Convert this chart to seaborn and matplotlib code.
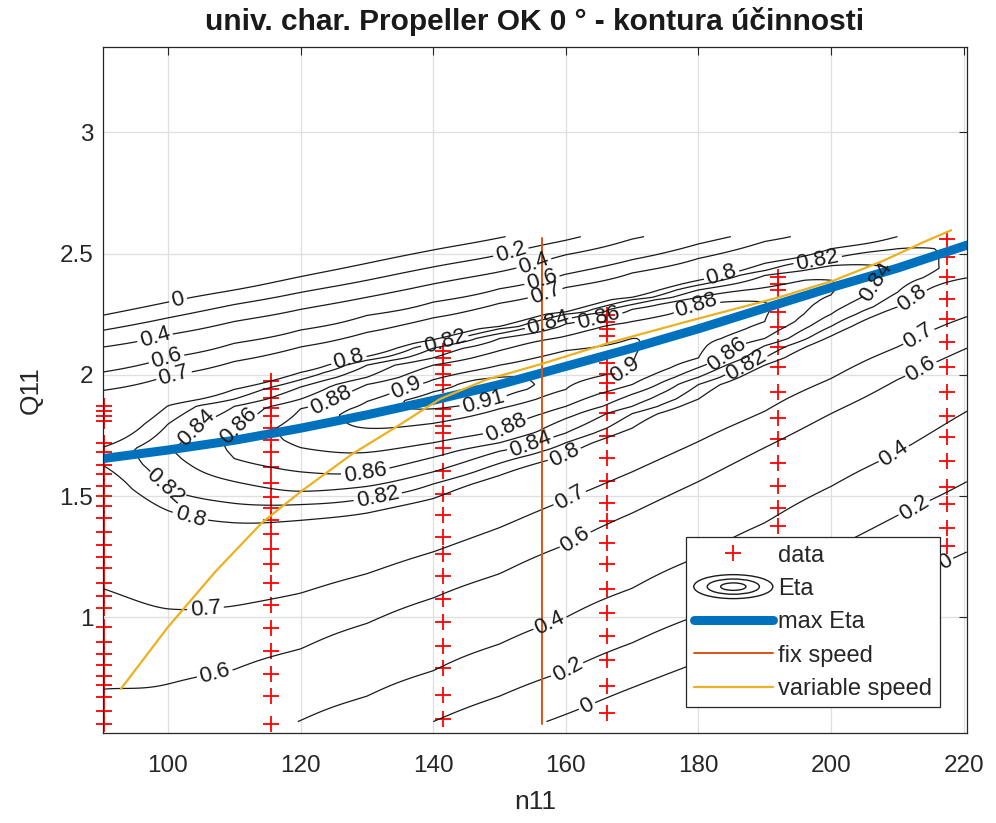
import numpy as np
import pandas as pd
import matplotlib
matplotlib.use("Agg")
import matplotlib.pyplot as plt
import seaborn as sns
from matplotlib.legend_handler import HandlerBase
from matplotlib.patches import Ellipse
from matplotlib.lines import Line2D

# ---------------- measured points (red crosses) ----------------
data_n1 = 90.4
data_q1 = [1.87, 1.85, 1.83, 1.81, 1.72, 1.68, 1.63, 1.59, 1.54, 1.50, 1.46, 1.41, 1.35,
           1.30, 1.25, 1.205, 1.14, 1.09, 1.04, 0.96, 0.90, 0.85, 0.805, 0.76, 0.72, 0.67,
           0.615, 0.56]
data_n2 = 115.6
data_q2 = [1.975, 1.94, 1.905, 1.865, 1.83, 1.78, 1.73, 1.68, 1.62, 1.555, 1.495, 1.45,
           1.40, 1.345, 1.28, 1.22, 1.14, 1.05, 0.955, 0.86, 0.765, 0.675, 0.56]
data_n3 = 141.5
data_q3 = [2.10, 2.07, 2.04, 2.005, 1.96, 1.86, 1.83, 1.79, 1.76, 1.70, 1.605, 1.51, 1.42,
           1.33, 1.26, 1.17, 1.075, 0.98, 0.88, 0.79, 0.68, 0.58]
data_n4 = 166.2
data_q4 = [2.245, 2.216, 2.19, 2.16, 2.047, 2.005, 1.968, 1.927, 1.844, 1.749, 1.658,
           1.563, 1.472, 1.398, 1.307, 1.22, 1.117, 1.018, 0.923, 0.826, 0.716, 0.604]
data_n5 = 192.0
data_q5 = [2.403, 2.376, 2.348, 2.259, 2.197, 2.114, 2.031, 1.928, 1.824, 1.737, 1.638,
           1.543, 1.452, 1.377]
data_n6 = 217.5
data_q6 = [2.562, 2.486, 2.403, 2.314, 2.231, 2.135, 2.031, 1.928, 1.832, 1.742, 1.646,
           1.536, 1.467, 1.37, 1.295]

# ---------------- max Eta, fix speed, variable speed ----------------
maxeta_n = [90.3, 100, 110, 120, 130, 140, 150, 160, 170, 180, 190, 200, 210, 220.5]
maxeta_q = [1.655, 1.69, 1.73, 1.78, 1.835, 1.895, 1.96, 2.035, 2.11, 2.19, 2.275, 2.36,
            2.44, 2.535]
fix_n = [156.35, 156.35]
fix_q = [0.56, 2.565]
var_n = [92.9, 100, 107.2, 114.2, 120.2, 127.8, 134.3, 141.0, 148.0, 156.35, 166.9, 177.9,
         192.2, 200.5, 208.0, 214.0, 218.1]
var_q = [0.705, 0.96, 1.19, 1.391, 1.522, 1.674, 1.783, 1.90, 1.98, 2.045, 2.135, 2.217,
         2.32, 2.39, 2.472, 2.548, 2.596]

# ---------------- efficiency field: contour crossings read per n11 column ----------------
nan = np.nan
eta_cols_n = [90, 100, 110, 120, 130, 140, 150, 160, 170, 180, 190, 200, 210, 220.5]
ridge_q = [1.67, 1.69, 1.73, 1.78, 1.835, 1.895, 1.96, 2.04, 2.115, 2.19, 2.275, 2.36, 2.44, 2.53]
ridge_eta = [0.802, 0.838, 0.865, 0.889, 0.908, 0.914, 0.915, 0.909, 0.901, 0.89, 0.882,
             0.862, 0.838, 0.819]
eta_levels = [0.0, 0.2, 0.4, 0.6, 0.7, 0.8, 0.82, 0.84, 0.86, 0.88, 0.90, 0.91]
# Q11 where each level crosses the column below the ridge
low_000 = [nan, nan, nan, nan, nan, nan, 0.50, 0.60, 0.71, 0.815, 0.925, 1.03, 1.14, 1.27]
low_020 = [nan, nan, nan, nan, 0.47, 0.57, 0.675, 0.78, 0.895, 1.01, 1.145, 1.28, 1.42, 1.56]
low_040 = [nan, nan, 0.47, 0.575, 0.675, 0.78, 0.89, 1.00, 1.12, 1.25, 1.39, 1.54, 1.68, 1.85]
low_060 = [0.703, 0.725, 0.785, 0.87, 0.975, 1.08, 1.18, 1.30, 1.43, 1.56, 1.70, 1.84, 1.98, 2.11]
low_070 = [1.12, 1.035, 1.047, 1.10, 1.18, 1.27, 1.37, 1.485, 1.60, 1.725, 1.85, 1.985, 2.115, 2.24]
low_080 = [1.63, 1.44, 1.39, 1.40, 1.43, 1.49, 1.585, 1.67, 1.78, 1.90, 2.04, 2.16, 2.28, 2.40]
low_082 = [nan, 1.53, 1.47, 1.465, 1.49, 1.55, 1.635, 1.72, 1.84, 1.96, 2.07, 2.20, 2.34, nan]
low_084 = [nan, nan, 1.56, 1.52, 1.54, 1.60, 1.685, 1.76, 1.87, 1.99, 2.12, 2.25, nan, nan]
low_086 = [nan, nan, 1.655, 1.60, 1.597, 1.66, 1.72, 1.82, 1.92, 2.03, 2.15, 2.33, nan, nan]
low_088 = [nan, nan, nan, 1.70, 1.68, 1.72, 1.77, 1.87, 1.96, 2.07, 2.22, nan, nan, nan]
low_090 = [nan, nan, nan, nan, 1.78, 1.80, 1.86, 1.94, 2.03, nan, nan, nan, nan, nan]
low_091 = [nan, nan, nan, nan, nan, 1.86, 1.90, nan, nan, nan, nan, nan, nan, nan]
# Q11 where each level crosses the column above the ridge
up_000 = [2.245, 2.30, 2.35, 2.405, 2.46, 2.515, 2.565, 2.62, 2.69, 2.76, 2.83, 2.90, 2.97, 3.04]
up_020 = [2.183, 2.235, 2.29, 2.34, 2.39, 2.445, 2.495, 2.555, 2.62, 2.69, 2.76, 2.83, 2.90, 2.97]
up_040 = [2.114, 2.165, 2.22, 2.27, 2.32, 2.375, 2.425, 2.495, 2.56, 2.63, 2.70, 2.77, 2.84, 2.90]
up_060 = [2.011, 2.07, 2.13, 2.185, 2.245, 2.30, 2.355, 2.415, 2.475, 2.54, 2.60, 2.67, 2.73, 2.79]
up_070 = [1.935, 1.995, 2.055, 2.115, 2.175, 2.235, 2.295, 2.36, 2.42, 2.48, 2.55, 2.62, 2.68, 2.74]
up_080 = [1.70, 1.873, 1.94, 2.01, 2.076, 2.145, 2.20, 2.26, 2.32, 2.39, 2.46, 2.52, 2.57, 2.60]
up_082 = [nan, 1.797, 1.90, 1.98, 2.06, 2.13, 2.19, 2.25, 2.31, 2.37, 2.43, 2.48, 2.52, nan]
up_084 = [nan, nan, 1.87, 1.95, 2.04, 2.11, 2.17, 2.23, 2.29, 2.35, 2.41, 2.45, nan, nan]
up_086 = [nan, nan, 1.78, 1.90, 1.99, 2.07, 2.15, 2.21, 2.27, 2.32, 2.36, 2.39, nan, nan]
up_088 = [nan, nan, nan, 1.86, 1.96, 2.04, 2.10, 2.16, 2.22, 2.29, 2.30, nan, nan, nan]
up_090 = [nan, nan, nan, nan, 1.89, 1.98, 2.04, 2.10, 2.15, nan, nan, nan, nan, nan]
up_091 = [nan, nan, nan, nan, nan, 1.93, 1.99, nan, nan, nan, nan, nan, nan, nan]

lower_sets = [low_000, low_020, low_040, low_060, low_070, low_080, low_082, low_084,
              low_086, low_088, low_090, low_091]
upper_sets = [up_000, up_020, up_040, up_060, up_070, up_080, up_082, up_084,
              up_086, up_088, up_090, up_091]

# ---------------- build the field grid from the column readings ----------------
q_grid = np.linspace(0.57, 2.57, 401)
m = len(eta_cols_n)
Zc = np.empty((q_grid.size, m))
for j in range(m):
    pts = [(ridge_q[j], ridge_eta[j])]
    for lev, lo, up in zip(eta_levels, lower_sets, upper_sets):
        if not np.isnan(lo[j]):
            pts.append((lo[j], lev))
        if not np.isnan(up[j]):
            pts.append((up[j], lev))
    pts.sort()
    qs = np.array([p[0] for p in pts])
    vs = np.array([p[1] for p in pts])
    s0 = (vs[1] - vs[0]) / (qs[1] - qs[0])
    s1 = (vs[-1] - vs[-2]) / (qs[-1] - qs[-2])
    qs = np.r_[qs[0] - 2.0, qs, qs[-1] + 2.0]
    vs = np.r_[vs[0] - 2.0 * s0, vs, vs[-1] + 2.0 * s1]
    Zc[:, j] = np.interp(q_grid, qs, vs)

# smooth (Catmull-Rom) resampling between the read columns
Zp = np.concatenate([2 * Zc[:, :1] - Zc[:, 1:2], Zc, 2 * Zc[:, -1:] - Zc[:, -2:-1]], axis=1)
t_f = np.linspace(0, m - 1, 14 * 20)
i_f = np.clip(np.floor(t_f).astype(int), 0, m - 2)
u = t_f - i_f
P0, P1, P2, P3 = Zp[:, i_f], Zp[:, i_f + 1], Zp[:, i_f + 2], Zp[:, i_f + 3]
Z = 0.5 * (2 * P1 + (-P0 + P2) * u + (2 * P0 - 5 * P1 + 4 * P2 - P3) * u ** 2
           + (-P0 + 3 * P1 - 3 * P2 + P3) * u ** 3)
n_f = np.interp(t_f, np.arange(m), np.array(eta_cols_n, float))
NN, QQ = np.meshgrid(n_f, q_grid)

# ---------------- styling ----------------
sns.set_theme(style="white")
plt.rcParams["font.family"] = ["Liberation Sans", "DejaVu Sans"]
TXT = "#262626"
plt.rcParams["text.color"] = TXT
plt.rcParams["axes.labelcolor"] = TXT

fig = plt.figure(figsize=(9.96, 8.23), dpi=100)
ax = fig.add_axes([103 / 996, (823 - 733) / 823, (967 - 103) / 996, (733 - 47) / 823])
ax.set_facecolor("white")

df_pts = pd.DataFrame({
    "n11": [data_n1] * len(data_q1) + [data_n2] * len(data_q2) + [data_n3] * len(data_q3)
           + [data_n4] * len(data_q4) + [data_n5] * len(data_q5) + [data_n6] * len(data_q6),
    "Q11": data_q1 + data_q2 + data_q3 + data_q4 + data_q5 + data_q6,
})
sns.scatterplot(data=df_pts, x="n11", y="Q11", marker="+", color="#FF0000", s=140,
                linewidth=1.3, ax=ax, zorder=1.5, legend=False, clip_on=False)

label_pos = {
    0.0: [(101.9, 2.279), (163.4, 0.627), (217.5, 1.22)],
    0.2: [(151.8, 2.50), (160.4, 0.778), (212.5, 1.453)],
    0.4: [(98.2, 2.142), (155.3, 2.452), (157.9, 0.964), (209.5, 1.674)],
    0.6: [(99.9, 2.059), (156.4, 2.39), (161.6, 1.315), (107.2, 0.757), (213.5, 2.025)],
    0.7: [(100.9, 1.997), (156.9, 2.335), (160.9, 1.48), (105.7, 1.026), (213.3, 2.155)],
    0.8: [(127.3, 2.059), (183.4, 2.417), (103.2, 1.405), (159.9, 1.667), (212.5, 2.307)],
    0.82: [(141.8, 2.135), (198.0, 2.472), (99.7, 1.543), (131.8, 1.48), (187.4, 2.031)],
    0.84: [(103.9, 1.79), (157.4, 2.21), (154.8, 1.708), (207.5, 2.376)],
    0.86: [(110.9, 1.783), (164.9, 2.238), (129.8, 1.597), (185.0, 2.073)],
    0.88: [(124.2, 1.91), (179.4, 2.293), (151.3, 1.77)],
    0.90: [(135.8, 1.95), (168.9, 2.018)],
    0.91: [(147.8, 1.873)],
}
for lev in eta_levels:
    cs = ax.contour(NN, QQ, Z, levels=[lev], colors="k", linewidths=0.9, zorder=2)
    for p in label_pos[lev]:
        try:
            cs.clabel(manual=[p], inline=True, inline_spacing=3, fontsize=16,
                      fmt=lambda v: f"{v:g}")
        except Exception:
            pass
    for t in cs.labelTexts:
        t.set_color("k")

sns.lineplot(x=maxeta_n, y=maxeta_q, color="#0072BD", linewidth=6.5, sort=False,
             estimator=None, ax=ax, zorder=3)
sns.lineplot(x=fix_n, y=fix_q, color="#D95319", linewidth=1.4, sort=False,
             estimator=None, ax=ax, zorder=3.5)
sns.lineplot(x=var_n, y=var_q, color="#EDB120", linewidth=1.6, sort=False,
             estimator=None, ax=ax, zorder=4)

ax.set_xlim(90.2, 220.5)
ax.set_ylim(0.523, 3.352)
ax.set_xticks([100, 120, 140, 160, 180, 200, 220])
ax.set_yticks([1, 1.5, 2, 2.5, 3])
ax.set_yticklabels(["1", "1.5", "2", "2.5", "3"])
ax.grid(True, color="#DFDFDF", linewidth=0.9)
ax.set_axisbelow(True)
ax.tick_params(direction="in", top=True, right=True, length=6, width=0.8,
               colors=TXT, labelsize=17.5)
ax.tick_params(axis="x", pad=16)
ax.tick_params(axis="y", pad=7)
for sp in ax.spines.values():
    sp.set_color(TXT)
    sp.set_linewidth(0.9)
    sp.set_zorder(5)
ax.set_xlabel("n11", fontsize=19, labelpad=9)
ax.set_ylabel("Q11", fontsize=19, labelpad=12)
ax.set_title("univ. char. Propeller OK 0 ° - kontura účinnosti", fontsize=21.5,
             fontweight="bold", pad=12, color="k")


class EllipsesHandler(HandlerBase):
    def create_artists(self, legend, orig_handle, xdescent, ydescent, width, height,
                       fontsize, trans):
        cx = -xdescent + width / 2
        cy = -ydescent + height / 2
        arts = []
        for f, g in [(1.0, 1.45), (0.66, 0.92), (0.32, 0.45)]:
            e = Ellipse((cx, cy), width * f, height * g, fill=False, edgecolor="k",
                        linewidth=1.0, transform=trans)
            arts.append(e)
        return arts


class EtaProxy:
    pass


h_data = Line2D([], [], linestyle="none", marker="+", color="#FF0000", markersize=12,
                markeredgewidth=1.3)
h_eta = EtaProxy()
h_max = Line2D([], [], color="#0072BD", linewidth=6.5)
h_fix = Line2D([], [], color="#D95319", linewidth=1.4)
h_var = Line2D([], [], color="#EDB120", linewidth=1.6)
leg = ax.legend([h_data, h_eta, h_max, h_fix, h_var],
                ["data", "Eta", "max Eta", "fix speed", "variable speed"],
                handler_map={EtaProxy: EllipsesHandler()},
                loc="upper left", bbox_to_anchor=(0.675, 0.2857), fontsize=17,
                handlelength=3.35, handletextpad=0.22, labelspacing=0.48,
                borderpad=0.32, borderaxespad=0.0, fancybox=False, framealpha=1.0,
                edgecolor=TXT)
leg.get_frame().set_linewidth(0.9)
leg.set_zorder(10)

fig.savefig("out.png", dpi=100)
